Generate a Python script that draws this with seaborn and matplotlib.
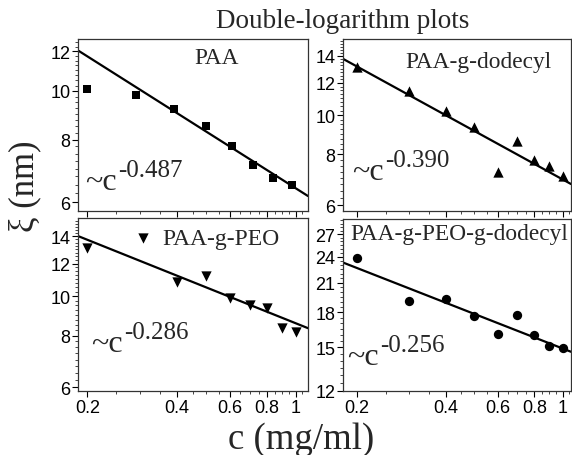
import numpy as np
import pandas as pd
import seaborn as sns
import matplotlib.pyplot as plt
from matplotlib.ticker import MultipleLocator, NullFormatter

# concentration c (mg/ml) and mesh size xi (nm)
paa_c = [0.2, 0.29, 0.39, 0.5, 0.61, 0.72, 0.84, 0.97]
paa_xi = [10.07, 9.80, 9.22, 8.53, 7.76, 7.11, 6.70, 6.49]

dod_c = [0.2, 0.3, 0.4, 0.5, 0.6, 0.7, 0.8, 0.9, 1.0]
dod_xi = [13.15, 11.47, 10.24, 9.34, 7.24, 8.63, 7.74, 7.48, 7.07]

peo_c = [0.2, 0.4, 0.5, 0.6, 0.7, 0.8, 0.9, 1.0]
peo_xi = [13.1, 10.8, 11.2, 9.88, 9.51, 9.35, 8.36, 8.17]

peodod_c = [0.2, 0.3, 0.4, 0.5, 0.6, 0.7, 0.8, 0.9, 1.0]
peodod_xi = [23.85, 19.1, 19.3, 17.65, 16.1, 17.77, 16.0, 15.15, 14.98]

# power-law fit lines, value at each end of the x range
fit_c_left = [0.186, 1.097]
fit_c_right = [0.179, 1.065]
paa_fit = [12.05, 6.17]
dod_fit = [13.76, 6.76]
peo_fit = [14.0, 8.35]
peodod_fit = [23.3, 14.67]

exponents = ["-0.487", "-0.390", "-0.286", "-0.256"]
names = ["PAA", "PAA-g-dodecyl", "PAA-g-PEO", "PAA-g-PEO-g-dodecyl"]

x_ticks = [0.2, 0.4, 0.6, 0.8, 1.0]
x_labels = ["0.2", "0.4", "0.6", "0.8", "1"]

sns.set_theme(style="ticks")
plt.rcParams["font.family"] = ["Liberation Sans", "DejaVu Sans"]
SERIF = ["Liberation Serif", "DejaVu Serif"]

fig = plt.figure(figsize=(5.72, 4.56), dpi=100)
W, H = 572, 456


def box(l, t, r, b):
    return [l / W, 1 - b / H, (r - l) / W, (b - t) / H]


panels = [
    dict(rect=box(78, 40, 308, 212), c=paa_c, xi=paa_xi, fc=fit_c_left, fy=paa_fit,
         marker="s", s=38, ylim=(5.76, 12.7), yt=[6, 8, 10, 12], ym=0.25,
         name_xy=(0.604, 0.895), exp_xy=(0.03, 0.128), bottom=False),
    dict(rect=box(343, 40, 571, 212), c=dod_c, xi=dod_xi, fc=fit_c_right, fy=dod_fit,
         marker="^", s=55, ylim=(5.8, 15.4), yt=[6, 8, 10, 12, 14], ym=0.25,
         name_xy=(0.592, 0.872), exp_xy=(0.04, 0.186), bottom=False),
    dict(rect=box(78, 219, 308, 392), c=peo_c, xi=peo_xi, fc=fit_c_left, fy=peo_fit,
         marker="v", s=55, ylim=(5.87, 15.49), yt=[6, 8, 10, 12, 14], ym=0.25,
         name_xy=None, exp_xy=(0.057, 0.231), bottom=True),
    dict(rect=box(343, 220, 571, 392), c=peodod_c, xi=peodod_xi, fc=fit_c_right, fy=peodod_fit,
         marker="o", s=45, ylim=(11.97, 29.2), yt=[12, 15, 18, 21, 24, 27], ym=0.5,
         name_xy=(0.51, 0.913), exp_xy=(0.018, 0.157), bottom=True),
]

for i, p in enumerate(panels):
    ax = fig.add_axes(p["rect"])
    df = pd.DataFrame({"c": p["c"], "xi": p["xi"]})
    fit = pd.DataFrame({"c": p["fc"], "xi": p["fy"]})
    sns.lineplot(data=fit, x="c", y="xi", ax=ax, color="black", linewidth=1.6)
    sns.scatterplot(data=df, x="c", y="xi", ax=ax, color="black", marker=p["marker"],
                    s=p["s"], edgecolor="black", linewidth=0, label=names[i])
    ax.set_xscale("log")
    ax.set_yscale("log")
    ax.set_xlim(p["fc"])
    ax.set_ylim(p["ylim"])

    ax.set_xticks(x_ticks, labels=x_labels)
    ax.xaxis.set_minor_locator(MultipleLocator(0.05))
    ax.xaxis.set_minor_formatter(NullFormatter())
    ax.set_yticks(p["yt"], labels=[str(t) for t in p["yt"]])
    ax.yaxis.set_minor_locator(MultipleLocator(p["ym"]))
    ax.yaxis.set_minor_formatter(NullFormatter())
    ax.tick_params(which="major", length=4, width=0.8, pad=1.5, labelsize=13,
                   colors="black", direction="out")
    ax.tick_params(which="minor", length=2, width=0.6, direction="out")
    ax.tick_params(labelbottom=p["bottom"])
    ax.set_xlabel("")
    ax.set_ylabel("")
    for sp in ax.spines.values():
        sp.set_visible(True)
        sp.set_color("#333333")
        sp.set_linewidth(0.9)

    if p["name_xy"] is None:
        ax.legend(loc="center left", bbox_to_anchor=(0.23, 0.884), frameon=False,
                  prop={"family": SERIF, "size": 17}, handlelength=1.0,
                  handletextpad=0.33, borderpad=0, borderaxespad=0)
    else:
        ax.get_legend().remove()
        ax.text(p["name_xy"][0], p["name_xy"][1], names[i], transform=ax.transAxes,
                ha="center", va="center", fontsize=16.8, family=SERIF)

    base = ax.text(p["exp_xy"][0], p["exp_xy"][1], "~c", transform=ax.transAxes,
                   ha="left", va="baseline", fontsize=23, family=SERIF)
    ax.annotate(exponents[i], xy=(1.0, 1.0), xycoords=base, xytext=(1, 6),
                textcoords="offset points", ha="left", va="top", fontsize=18,
                family=SERIF)

fig.text(343 / W, 1 - 22 / H, "Double-logarithm plots", ha="center", va="center",
         fontsize=19.5, family=SERIF)
fig.text(301 / W, 1 - 440 / H, "c (mg/ml)", ha="center", va="center",
         fontsize=26.5, family=SERIF)
fig.text(25 / W, 1 - 186 / H, "ξ (nm)", ha="center", va="center", rotation=90,
         fontsize=25, family=SERIF)

fig.savefig("out.png", dpi=100)
